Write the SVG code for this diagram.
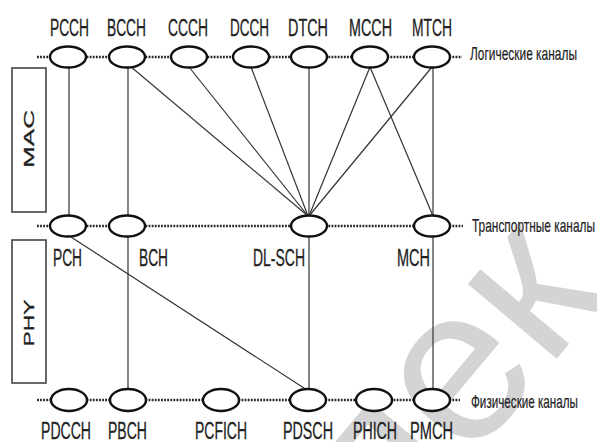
<svg xmlns="http://www.w3.org/2000/svg" width="597" height="442" viewBox="0 0 597 442">
<style>
.lbl{font-family:"Liberation Sans Narrow","Liberation Sans",Arial,sans-serif;font-size:23px;fill:#222;stroke:#222;stroke-width:0.3}
.side{font-family:"Liberation Sans Narrow","Liberation Sans",Arial,sans-serif;font-size:19px;fill:#222;stroke:#222;stroke-width:0.2}
.box{fill:none;stroke:#444;stroke-width:1.6}
.boxt{font-family:"Liberation Sans",Arial,sans-serif;font-size:15px;fill:#222;stroke:#222;stroke-width:0.3;text-anchor:middle}
.dot{stroke:#222;stroke-width:2.4;stroke-dasharray:1.8 1.3;fill:none}
.con line{stroke:#333;stroke-width:1.2}
.nd ellipse{fill:#fff;stroke:#111;stroke-width:2.4}
.wm{font-family:"Liberation Sans",Arial,sans-serif;font-size:220px;fill:#d4d4d4}
</style>
<rect width="597" height="442" fill="#fff"/>
<text class="wm" transform="translate(386,562) rotate(-50)">лек</text>

<g id="mac"><rect class="box" x="12" y="68" width="34" height="144"/><text class="boxt" transform="translate(34,139) rotate(-90)" textLength="58" lengthAdjust="spacingAndGlyphs">MAC</text></g>
<g id="phy"><rect class="box" x="12" y="240" width="34" height="143"/><text class="boxt" transform="translate(34,323) rotate(-90)" textLength="47" lengthAdjust="spacingAndGlyphs">PHY</text></g>

<g id="levels">
<line class="dot" x1="37" y1="57" x2="462" y2="57"/>
<line class="dot" x1="37" y1="226" x2="463" y2="226"/>
<line class="dot" x1="37" y1="400" x2="460" y2="400"/>
<text class="side" x="470" y="60" textLength="107" lengthAdjust="spacingAndGlyphs">Логические каналы</text>
<text class="side" x="472" y="232" textLength="123" lengthAdjust="spacingAndGlyphs">Транспортные каналы</text>
<text class="side" x="471" y="408" textLength="107" lengthAdjust="spacingAndGlyphs">Физические каналы</text>
</g>

<g id="connectors" class="con">
<line x1="69" y1="67" x2="69" y2="216"/>
<line x1="128" y1="67" x2="128" y2="390"/>
<line x1="130" y1="66" x2="308" y2="216"/>
<line x1="189" y1="67" x2="308" y2="216"/>
<line x1="251" y1="67" x2="308" y2="216"/>
<line x1="309" y1="67" x2="309" y2="216"/>
<line x1="370" y1="67" x2="309" y2="216"/>
<line x1="432" y1="67" x2="309" y2="216"/>
<line x1="370" y1="67" x2="433" y2="216"/>
<line x1="433" y1="67" x2="433" y2="216"/>
<line x1="71" y1="237" x2="307" y2="390"/>
<line x1="309" y1="236" x2="309" y2="390"/>
<line x1="433" y1="236" x2="433" y2="390"/>
</g>

<g id="PCCH" class="nd"><ellipse cx="68" cy="57" rx="18" ry="10.5"/><text class="lbl" x="50" y="36" textLength="39" lengthAdjust="spacingAndGlyphs">PCCH</text></g>
<g id="BCCH" class="nd"><ellipse cx="127" cy="57" rx="18" ry="10.5"/><text class="lbl" x="107" y="36" textLength="39" lengthAdjust="spacingAndGlyphs">BCCH</text></g>
<g id="CCCH" class="nd"><ellipse cx="189" cy="57" rx="18" ry="10.5"/><text class="lbl" x="168" y="36" textLength="40" lengthAdjust="spacingAndGlyphs">CCCH</text></g>
<g id="DCCH" class="nd"><ellipse cx="251" cy="57" rx="18" ry="10.5"/><text class="lbl" x="230" y="36" textLength="39" lengthAdjust="spacingAndGlyphs">DCCH</text></g>
<g id="DTCH" class="nd"><ellipse cx="309" cy="57" rx="18" ry="10.5"/><text class="lbl" x="288" y="36" textLength="40" lengthAdjust="spacingAndGlyphs">DTCH</text></g>
<g id="MCCH" class="nd"><ellipse cx="370" cy="57" rx="18" ry="10.5"/><text class="lbl" x="349" y="36" textLength="43" lengthAdjust="spacingAndGlyphs">MCCH</text></g>
<g id="MTCH" class="nd"><ellipse cx="432" cy="57" rx="18" ry="10.5"/><text class="lbl" x="412" y="36" textLength="40" lengthAdjust="spacingAndGlyphs">MTCH</text></g>

<g id="PCH" class="nd"><ellipse cx="68" cy="226" rx="18" ry="10.5"/><text class="lbl" x="53" y="266" textLength="29" lengthAdjust="spacingAndGlyphs">PCH</text></g>
<g id="BCH" class="nd"><ellipse cx="127" cy="226" rx="18" ry="10.5"/><text class="lbl" x="139" y="266" textLength="29" lengthAdjust="spacingAndGlyphs">BCH</text></g>
<g id="DL-SCH" class="nd"><ellipse cx="309" cy="226" rx="18" ry="10.5"/><text class="lbl" x="253" y="266" textLength="52" lengthAdjust="spacingAndGlyphs">DL-SCH</text></g>
<g id="MCH" class="nd"><ellipse cx="432" cy="226" rx="18" ry="10.5"/><text class="lbl" x="397" y="266" textLength="33" lengthAdjust="spacingAndGlyphs">MCH</text></g>

<g id="PDCCH" class="nd"><ellipse cx="69" cy="400" rx="18" ry="11"/><text class="lbl" x="41" y="439" textLength="50" lengthAdjust="spacingAndGlyphs">PDCCH</text></g>
<g id="PBCH" class="nd"><ellipse cx="128" cy="400" rx="18" ry="11"/><text class="lbl" x="108" y="439" textLength="39" lengthAdjust="spacingAndGlyphs">PBCH</text></g>
<g id="PCFICH" class="nd"><ellipse cx="221" cy="400" rx="18" ry="11"/><text class="lbl" x="195" y="439" textLength="52" lengthAdjust="spacingAndGlyphs">PCFICH</text></g>
<g id="PDSCH" class="nd"><ellipse cx="308" cy="400" rx="18" ry="11"/><text class="lbl" x="283" y="439" textLength="50" lengthAdjust="spacingAndGlyphs">PDSCH</text></g>
<g id="PHICH" class="nd"><ellipse cx="374" cy="400" rx="18" ry="11"/><text class="lbl" x="353" y="439" textLength="44" lengthAdjust="spacingAndGlyphs">PHICH</text></g>
<g id="PMCH" class="nd"><ellipse cx="432" cy="400" rx="18" ry="11"/><text class="lbl" x="410" y="439" textLength="43" lengthAdjust="spacingAndGlyphs">PMCH</text></g>
</svg>
